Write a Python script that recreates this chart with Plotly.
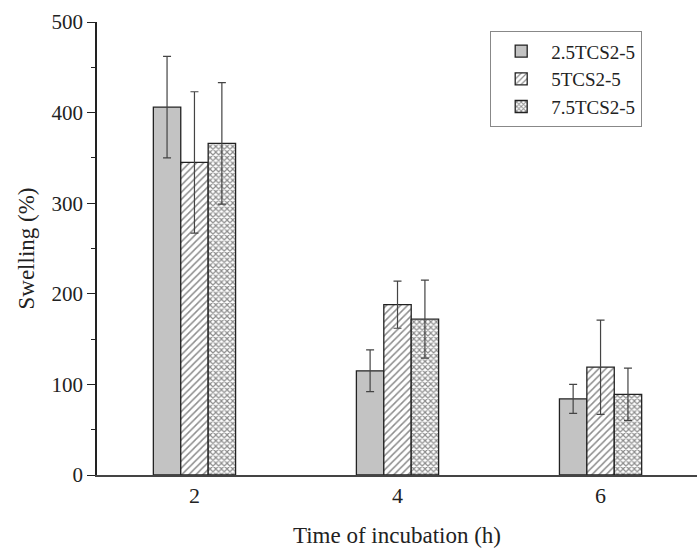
import plotly.graph_objects as go

times = [2, 4, 6]
series_names = ["2.5TCS2-5", "5TCS2-5", "7.5TCS2-5"]
swelling_25 = [406, 115, 84]
swelling_5 = [345, 188, 119]
swelling_75 = [366, 172, 89]
err_25 = [56, 23, 16]
err_5 = [78, 26, 52]
err_75 = [67, 43, 29]

values = [swelling_25, swelling_5, swelling_75]
errors = [err_25, err_5, err_75]
fills = ["#c3c3c3", "white", "white"]
shapes = ["", "/", "x"]
psizes = [0, 5, 4]
psolid = [0, 0.3, 0.5]

FONT = "Liberation Serif, Times New Roman, serif"

fig = go.Figure()
for name, v, e, fc, sh, ps, so in zip(series_names, values, errors, fills, shapes, psizes, psolid):
    pattern = dict(shape=sh, fgcolor="#1a1a1a", bgcolor="white", size=ps, solidity=so) if sh else None
    fig.add_trace(go.Bar(
        x=times, y=v, name=name,
        marker=dict(color=fc, line=dict(color="#222222", width=1.3), pattern=pattern),
        error_y=dict(type="data", array=e, visible=True, color="#444444", thickness=1.2, width=4),
    ))

fig.update_layout(
    width=697, height=550,
    margin=dict(l=97, r=0, t=22, b=75),
    paper_bgcolor="white", plot_bgcolor="white",
    barmode="group", bargap=0.595, bargroupgap=0,
    font=dict(family=FONT, size=20, color="#222222"),
    showlegend=True,
    legend=dict(
        x=0.655, y=0.98, xanchor="left", yanchor="top",
        bordercolor="#888888", borderwidth=1.2, bgcolor="white",
        font=dict(family=FONT, size=19, color="#222222"),
        tracegroupgap=0, itemwidth=50,
    ),
    xaxis=dict(
        range=[1.04, 6.95], tickvals=times, ticktext=[str(t) for t in times],
        showline=True, linecolor="#444444", linewidth=1.5, ticks="",
        showgrid=False, zeroline=False,
        title=dict(text="Time of incubation (h)", font=dict(size=23), standoff=20),
        tickfont=dict(size=22),
    ),
    yaxis=dict(
        range=[0, 500], tickvals=[0, 100, 200, 300, 400, 500],
        showline=True, linecolor="#222222", linewidth=1.5,
        ticks="outside", ticklen=8, tickcolor="#222222", tickwidth=1.3,
        minor=dict(tickvals=[50, 150, 250, 350, 450], ticks="outside", ticklen=4, tickcolor="#222222", tickwidth=1.2),
        showgrid=False, zeroline=False,
        title=dict(text="Swelling (%)", font=dict(size=23), standoff=10),
        tickfont=dict(size=21),
    ),
)

fig.write_html("out.html")
